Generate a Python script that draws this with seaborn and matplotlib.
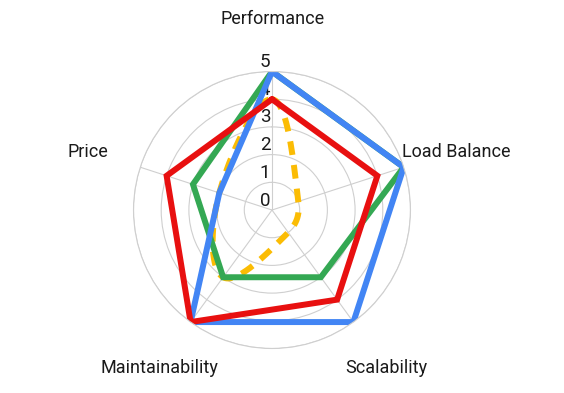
import numpy as np
import matplotlib
matplotlib.use("Agg")
import matplotlib.pyplot as plt
import matplotlib.transforms as mtransforms
import seaborn as sns

# data
categories = ["Performance", "Load Balance", "Scalability", "Maintainability", "Price"]
blue_values = [5, 5, 5, 5, 2]
red_values = [4, 4, 4, 5, 4]
green_values = [5, 5, 3, 3, 3]
yellow_values = [4, 1, 1, 3, 2]
radial_ticks = [0, 1, 2, 3, 4, 5]

BLUE = "#4285f4"
RED = "#e81010"
GREEN = "#34a853"
YELLOW = "#fbbc04"
GRID = "#cfcfcf"
TEXT = "#1a1a1a"


def closed(theta, values):
    return np.append(theta, theta[0]), np.append(values, values[0])


def smooth_loop(theta, values, tension=0.4, steps=40):
    """Closed bezier spline through the points (same idea as a 'tension' line)."""
    r = np.asarray(values, dtype=float)
    pts = np.column_stack([r * np.sin(theta), r * np.cos(theta)])
    n = len(pts)
    cp_in, cp_out = [], []
    for i in range(n):
        p0, p1, p2 = pts[i - 1], pts[i], pts[(i + 1) % n]
        d01 = np.hypot(*(p1 - p0))
        d12 = np.hypot(*(p2 - p1))
        s01 = d01 / (d01 + d12)
        s12 = d12 / (d01 + d12)
        cp_in.append(p1 - tension * s01 * (p2 - p0))
        cp_out.append(p1 + tension * s12 * (p2 - p0))
    t = np.linspace(0, 1, steps)[:, None]
    segs = []
    for i in range(n):
        a, b = pts[i], cp_out[i]
        c, d = cp_in[(i + 1) % n], pts[(i + 1) % n]
        segs.append((1 - t) ** 3 * a + 3 * (1 - t) ** 2 * t * b
                    + 3 * (1 - t) * t ** 2 * c + t ** 3 * d)
    xy = np.vstack(segs)
    return np.arctan2(xy[:, 0], xy[:, 1]), np.hypot(xy[:, 0], xy[:, 1])


sns.set_style("white")
plt.rcParams["font.family"] = ["Roboto", "DejaVu Sans"]

fig = plt.figure(figsize=(5.64, 3.93), dpi=100)
ax = fig.add_axes([0.2367, 0.1132, 0.4911, 0.7048], projection="polar")
ax.set_theta_offset(np.pi / 2)
ax.set_theta_direction(-1)

theta = np.linspace(0, 2 * np.pi, len(categories), endpoint=False)

# grid
ax.set_ylim(0, 5)
ax.set_yticks(radial_ticks[1:])
ax.set_yticklabels([])
ax.set_xticks(theta)
ax.set_xticklabels([])
ax.tick_params(length=0)
ax.grid(color=GRID, linewidth=0.8)
ax.spines["polar"].set_color(GRID)
ax.spines["polar"].set_linewidth(0.8)
ax.set_axisbelow(True)

# radial tick labels, just above each ring
tick_tr = mtransforms.offset_copy(ax.transData, fig=fig, x=-7, y=4.5, units="dots")
for k in radial_ticks:
    ax.text(0, k, str(k), transform=tick_tr, ha="center", va="baseline",
            fontsize=13.5, color=TEXT, zorder=1.5)

# category labels: (angle in deg, radius, ha)
label_layout = [(0.3, 6.71, "center"), (67.7, 5.06, "left"), (144.8, 7.18, "center"),
                (214.8, 7.15, "center"), (287.9, 6.21, "right")]
for name, (ang, rad, ha) in zip(categories, label_layout):
    ax.text(np.deg2rad(ang), rad, name, ha=ha, va="baseline",
            fontsize=13, color=TEXT, clip_on=False)

lw = 4.3
ty, ry = smooth_loop(theta, yellow_values)
sns.lineplot(x=ty, y=ry, ax=ax, sort=False, estimator=None, color=YELLOW,
             linewidth=lw, linestyle=(0, (2.3, 1.7)), dash_capstyle="butt")
for vals, col in [(green_values, GREEN), (blue_values, BLUE), (red_values, RED)]:
    tx, rx = closed(theta, vals)
    sns.lineplot(x=tx, y=rx, ax=ax, sort=False, estimator=None, color=col,
                 linewidth=lw, solid_joinstyle="miter")

ax.set_xlabel("")
ax.set_ylabel("")
fig.savefig("out.png", dpi=100)
